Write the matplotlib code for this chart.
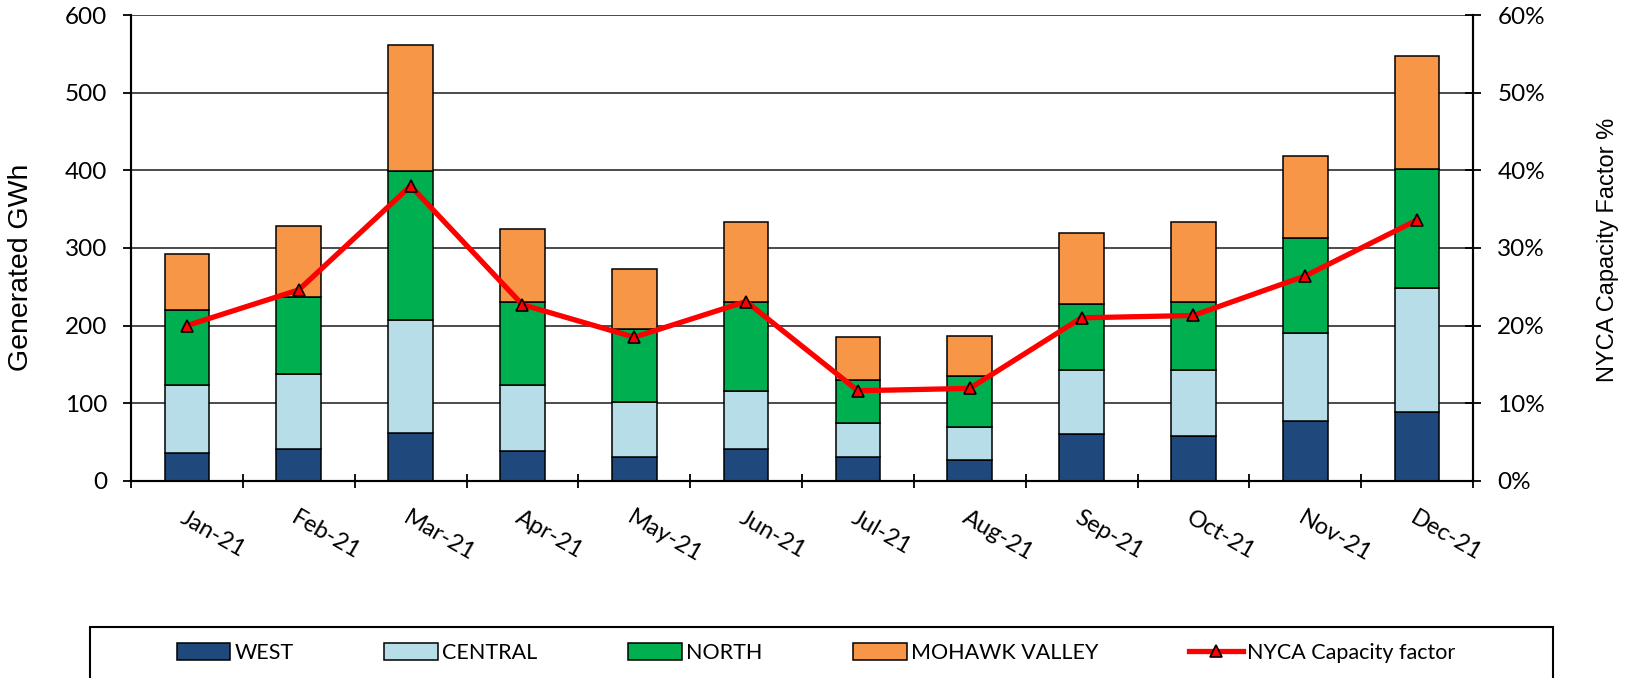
import matplotlib
matplotlib.use("Agg")
import matplotlib.pyplot as plt
import numpy as np
from matplotlib.patches import Rectangle
from matplotlib.ticker import PercentFormatter, FixedLocator

months = ["Jan-21", "Feb-21", "Mar-21", "Apr-21", "May-21", "Jun-21",
          "Jul-21", "Aug-21", "Sep-21", "Oct-21", "Nov-21", "Dec-21"]
west = [36, 41, 61, 38, 30, 41, 30, 27, 60, 57, 77, 88]
central = [87, 97, 146, 85, 71, 74, 44, 42, 83, 86, 113, 160]
north = [97, 99, 192, 108, 95, 116, 56, 66, 85, 88, 123, 154]
mohawk = [72, 91, 163, 94, 77, 102, 55, 52, 91, 102, 105, 146]
cap_factor = [0.200, 0.246, 0.380, 0.227, 0.185, 0.231,
              0.116, 0.119, 0.210, 0.213, 0.264, 0.336]

series_names = ["WEST", "CENTRAL", "NORTH", "MOHAWK VALLEY"]
series_colors = ["#1F497D", "#B7DEE8", "#00B050", "#F79646"]
line_name = "NYCA Capacity factor"

W, H = 1635, 678
fig = plt.figure(figsize=(W / 100, H / 100), dpi=100)
x0, x1, ytop, ybot = 131, 1473, 15.3, 480.7
ax = fig.add_axes([x0 / W, 1 - ybot / H, (x1 - x0) / W, (ybot - ytop) / H])
ax2 = ax.twinx()

tick_font = "Lato"
xpos = np.arange(len(months))
bottom = np.zeros(len(months))
handles = []
for vals, name, col in zip([west, central, north, mohawk], series_names, series_colors):
    b = ax.bar(xpos, vals, width=0.4, bottom=bottom, color=col,
               edgecolor="black", linewidth=1.1, label=name, zorder=3)
    handles.append(b)
    bottom += np.array(vals)

ln, = ax2.plot(xpos, cap_factor, color="#FF0000", linewidth=3.8, marker="^",
               markersize=9, markerfacecolor="#FF0000", markeredgecolor="black",
               markeredgewidth=1.2, label=line_name, zorder=4)
handles.append(ln)

ax.set_xlim(-0.5, len(months) - 0.5)
ax.set_ylim(0, 600)
ax2.set_ylim(0, 0.6)
ax.set_yticks(np.arange(0, 601, 100))
ax2.set_yticks(np.arange(0, 0.61, 0.1))
ax2.yaxis.set_major_formatter(PercentFormatter(1.0, decimals=0))

ax.set_axisbelow(True)
ax.grid(axis="y", color="#1a1a1a", linewidth=1.1, zorder=0)
ax.grid(axis="x", visible=False)

ax.set_xticks(xpos)
ax.set_xticklabels(months, rotation=-30, ha="left", va="top",
                   rotation_mode="anchor", fontsize=17, family=tick_font)
ax.xaxis.set_minor_locator(FixedLocator(np.arange(-0.5, len(months), 1)))
ax.tick_params(axis="x", which="major", length=0, pad=19)
ax.tick_params(axis="x", which="minor", direction="inout", length=10, width=1.3)
ax.tick_params(axis="y", direction="out", length=6, width=1.3, pad=11,
               labelsize=17.5)
ax2.tick_params(axis="y", direction="inout", length=11, width=1.3, pad=12,
                labelsize=17.5)
for lab in ax.get_yticklabels() + ax2.get_yticklabels():
    lab.set_family(tick_font)

for a in (ax, ax2):
    a.spines["top"].set_visible(False)
    for s in ("left", "right", "bottom"):
        a.spines[s].set_linewidth(1.5)

fig.text(21.5 / W, 1 - 267.5 / H, "Generated GWh", rotation=90, ha="center",
         va="center", fontsize=20.5, family="Liberation Sans")
fig.text(1607.5 / W, 1 - 250 / H, "NYCA Capacity Factor %", rotation=90,
         ha="center", va="center", fontsize=17, family="Liberation Sans")

leg = fig.legend(handles=handles, labels=series_names + [line_name], ncol=5,
                 loc="center", bbox_to_anchor=(816 / W, 1 - 653 / H),
                 bbox_transform=fig.transFigure, frameon=False,
                 prop={"family": tick_font, "size": 15.5},
                 handlelength=2.5, handleheight=0.8, handletextpad=0.2,
                 columnspacing=4.2, numpoints=1)

fig.patches.append(Rectangle((89.6 / W, 1 - 680 / H), (1553 - 89.6) / W,
                             (680 - 627.3) / H, transform=fig.transFigure,
                             fill=False, edgecolor="black", linewidth=1.5))

fig.savefig("out.png", dpi=100)
